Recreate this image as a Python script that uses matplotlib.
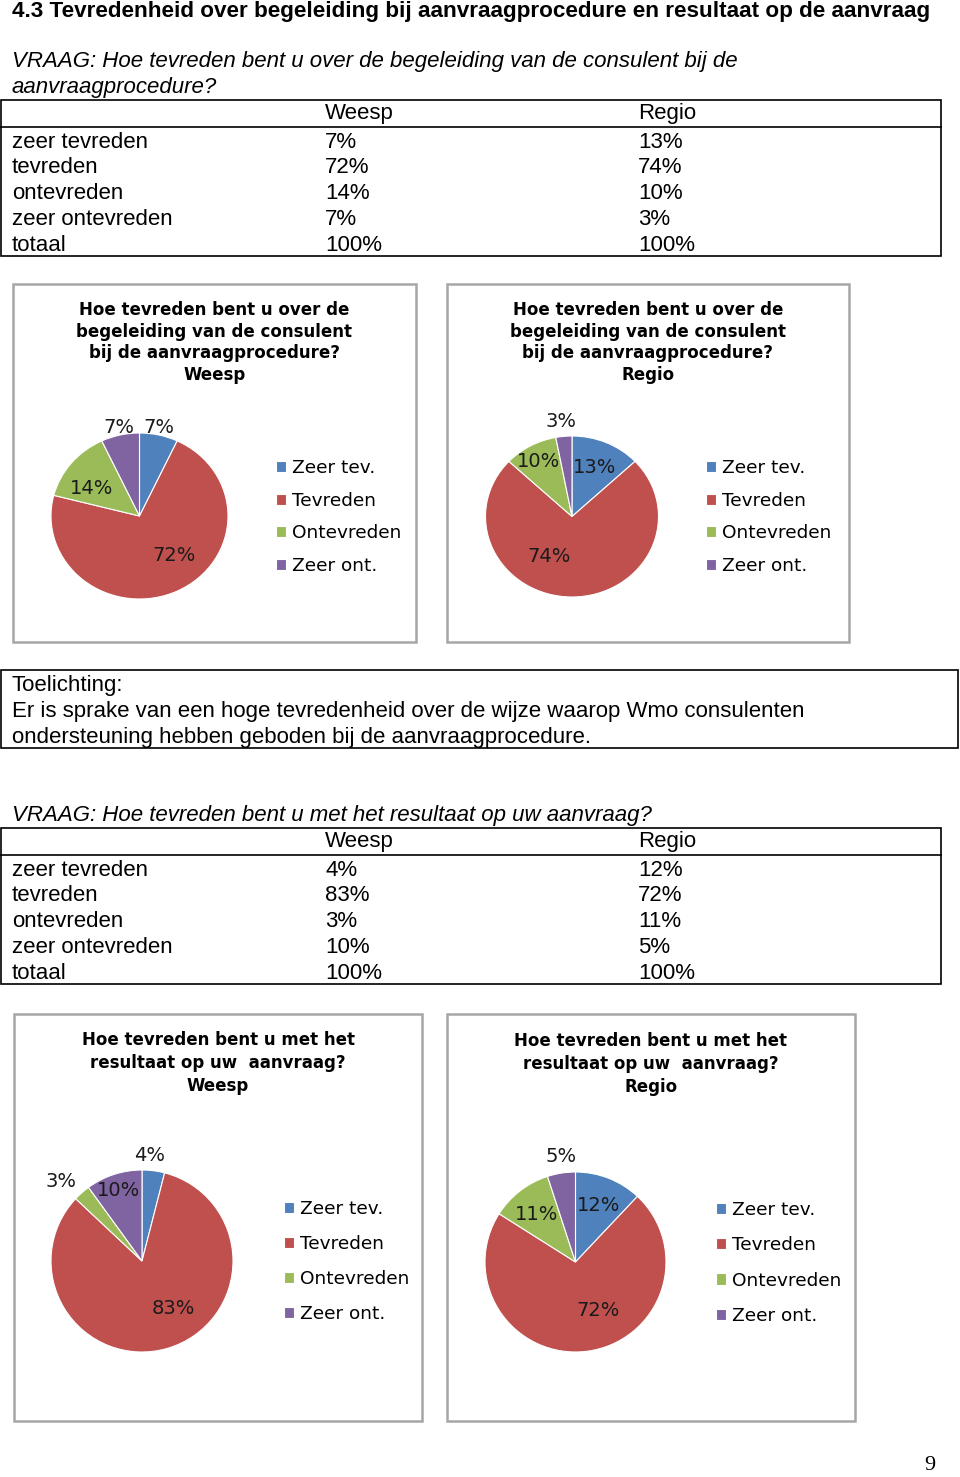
import matplotlib
matplotlib.use("Agg")
import matplotlib.pyplot as plt
import numpy as np
from matplotlib.patches import Rectangle

W, H = 960, 1477

# data
categories = ["zeer tevreden", "tevreden", "ontevreden", "zeer ontevreden"]
legend_labels = ["Zeer tev.", "Tevreden", "Ontevreden", "Zeer ont."]
columns = ["Weesp", "Regio"]
colors = ["#4F81BD", "#C0504D", "#9BBB59", "#8064A2"]

begeleiding_weesp = [7, 72, 14, 7]
begeleiding_regio = [13, 74, 10, 3]
resultaat_weesp = [4, 83, 3, 10]
resultaat_regio = [12, 72, 11, 5]

BODY = "Liberation Sans"
CHART = "DejaVu Sans"

fig = plt.figure(figsize=(W / 100, H / 100), dpi=100)
page = fig.add_axes([0, 0, 1, 1])
page.set_xlim(0, W)
page.set_ylim(H, 0)
page.axis("off")


def txt(x, y, s, size=16, **kw):
    page.text(x, y, s, family=kw.pop("family", BODY), fontsize=size,
              va="center", ha=kw.pop("ha", "left"), **kw)


def table(top, weesp, regio):
    page.add_patch(Rectangle((0.5, top), 940, 156, fill=False, lw=1.2, ec="black"))
    page.plot([0.5, 940.5], [top + 27, top + 27], color="black", lw=1.2)
    txt(325, top + 14, columns[0])
    txt(638, top + 14, columns[1])
    rows = categories + ["totaal"]
    col_w = weesp + [sum(weesp)]
    col_r = regio + [sum(regio)]
    for i, name in enumerate(rows):
        y = top + 42 + i * 25.8
        txt(12, y, name)
        txt(325, y, f"{col_w[i]}%")
        txt(638, y, f"{col_r[i]}%")


def pie_chart(box, title_lines, title_y, pitch, values, center, radii,
              legend_xy, spacing, label_pos):
    x0, y0, x1, y1 = box
    page.add_patch(Rectangle((x0, y0), x1 - x0, y1 - y0, fill=False, lw=1.8, ec="#a6a6a6"))
    tx = (x0 + x1) / 2
    for i, line in enumerate(title_lines):
        page.text(tx, title_y + i * pitch, line, family=CHART, fontsize=12,
                  fontweight="bold", ha="center", va="center")
    cx, cy = center
    rx, ry = radii
    ax = fig.add_axes([(cx - rx) / W, (H - cy - ry) / H, 2 * rx / W, 2 * ry / H])
    wedges, _ = ax.pie(values, colors=colors, startangle=90, counterclock=False,
                       wedgeprops=dict(edgecolor="white", linewidth=0.8))
    ax.set_aspect("auto")
    ax.set_xlim(-1, 1)
    ax.set_ylim(-1, 1)
    ax.axis("off")
    for w, v, (dist, shift) in zip(wedges, values, label_pos):
        ang = np.deg2rad((w.theta1 + w.theta2) / 2 + shift)
        ax.text(dist * np.cos(ang), dist * np.sin(ang), f"{v}%", family=CHART,
                fontsize=14, ha="center", va="center", color="#1a1a1a", clip_on=False)
    ax.legend(wedges, legend_labels, loc="center left", bbox_to_anchor=legend_xy,
              bbox_transform=page.transData, frameon=False,
              prop=dict(family=CHART, size=13.3), handlelength=0.55, handleheight=0.55,
              handletextpad=0.3, labelspacing=spacing, borderpad=0, borderaxespad=0)


# page text
txt(12, 11, "4.3 Tevredenheid over begeleiding bij aanvraagprocedure en resultaat op de aanvraag",
    size=16.2, fontweight="bold")
txt(12, 61, "VRAAG: Hoe tevreden bent u over de begeleiding van de consulent bij de", style="italic")
txt(12, 87, "aanvraagprocedure?", style="italic")
table(100, begeleiding_weesp, begeleiding_regio)

title1 = ["Hoe tevreden bent u over de", "begeleiding van de consulent",
          "bij de aanvraagprocedure?"]
pie_chart((13, 284, 416, 642), title1 + ["Weesp"], 310, 21.7, begeleiding_weesp,
          (139.5, 516), (88.5, 83), (276, 517), 0.78,
          [(1.09, 1.2), (0.62, 14), (0.63, 8), (1.09, 0)])
pie_chart((447, 284, 849, 642), title1 + ["Regio"], 310, 21.7, begeleiding_regio,
          (572, 516.5), (86.5, 80.5), (706, 517), 0.78,
          [(0.67, 0), (0.56, -28), (0.79, 1), (1.19, 0.6)])

page.add_patch(Rectangle((0.5, 670), 957, 78, fill=False, lw=1.2, ec="black"))
txt(12, 686, "Toelichting:")
txt(12, 712, "Er is sprake van een hoge tevredenheid over de wijze waarop Wmo consulenten")
txt(12, 738, "ondersteuning hebben geboden bij de aanvraagprocedure.")

txt(12, 816, "VRAAG: Hoe tevreden bent u met het resultaat op uw aanvraag?", style="italic")
table(828, resultaat_weesp, resultaat_regio)

title2 = ["Hoe tevreden bent u met het", "resultaat op uw  aanvraag?"]
pie_chart((14, 1014, 422, 1421), title2 + ["Weesp"], 1040, 23, resultaat_weesp,
          (142, 1261), (91, 91), (284, 1261.5), 0.93,
          [(1.16, 3), (0.63, 17), (1.25, 4), (0.82, 0)])
pie_chart((447, 1014, 855, 1421), title2 + ["Regio"], 1041, 23, resultaat_regio,
          (575.5, 1262), (90.5, 90), (716, 1263), 0.93,
          [(0.68, 0), (0.59, 18), (0.68, 2), (1.18, -1.5)])

page.text(930, 1466, "9", family="Liberation Serif", fontsize=16, ha="center", va="center")

fig.savefig("out.png", dpi=100)
